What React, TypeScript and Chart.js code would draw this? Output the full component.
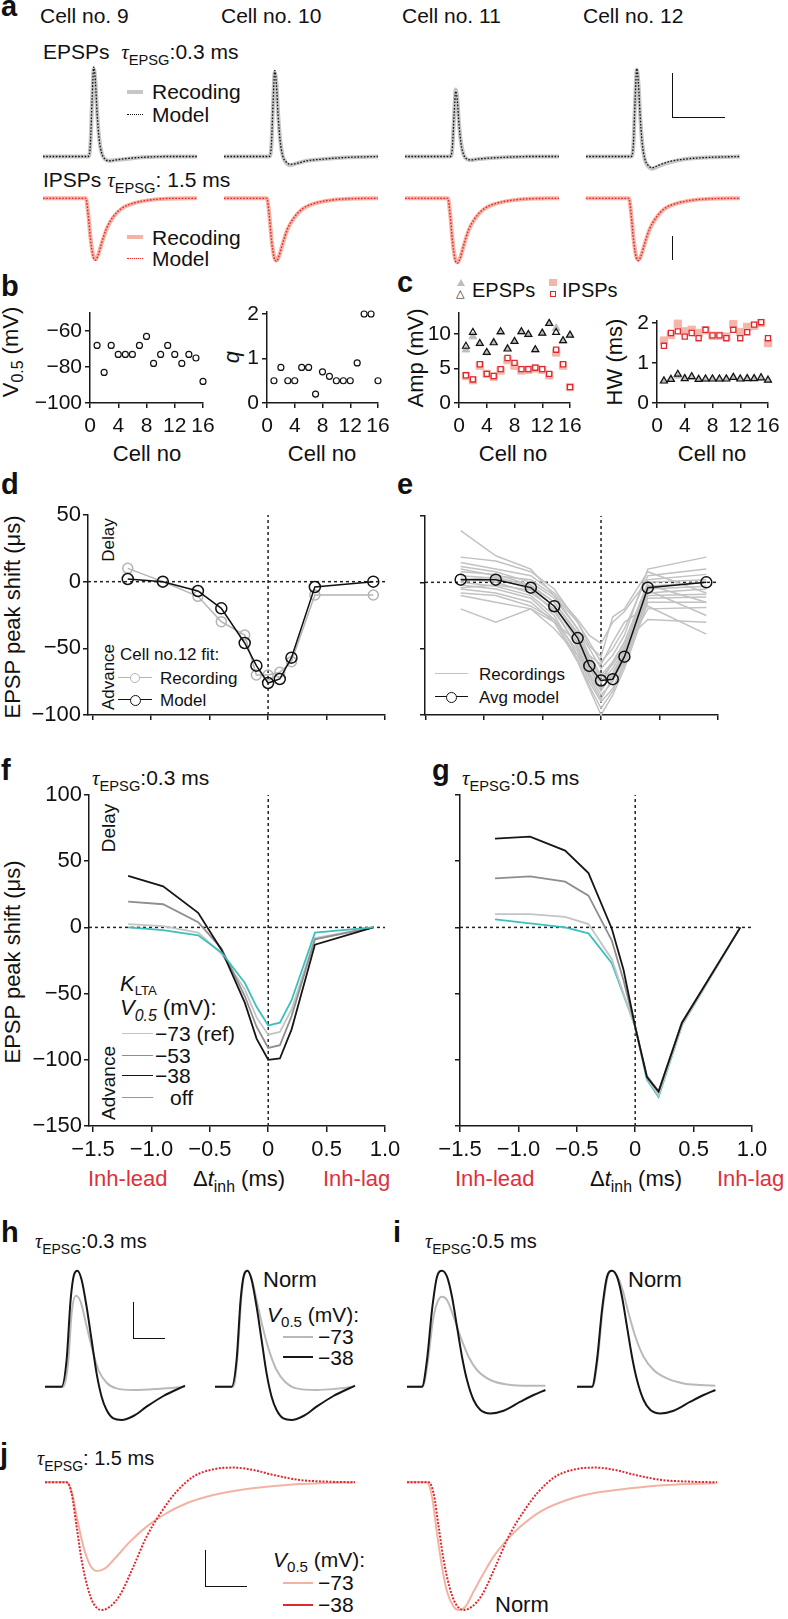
import React, { useEffect, useRef } from "react";
import { Chart, registerables } from "chart.js";
Chart.register(...registerables);

const FONT = '"Liberation Sans", Arial, Helvetica, sans-serif';
const SERIF = '"Liberation Serif", "DejaVu Serif", serif';

// ================= DATA =================
// panel a (time in ms, voltage in mV)
const A_EPSP_T = [0, 5.45, 5.7, 5.9, 6.1, 6.3, 6.5, 6.75, 7.05, 7.45, 7.95, 8.75, 9.95, 11.95, 14.95, 18.5];
const A_EPSP_MODEL_9 = [0, 0, 1.5, 6.5, 10.3, 8.6, 5.0, 2.0, 0.4, -0.3, -0.5, -0.4, -0.25, -0.1, 0, 0];
const A_EPSP_MODEL_10 = [0, 0, 1.4, 6.2, 9.9, 8.3, 4.8, 1.8, 0.1, -0.6, -0.9, -0.8, -0.5, -0.3, -0.1, 0];
const A_EPSP_MODEL_11 = [0, 0, 1.1, 4.8, 7.5, 6.3, 3.6, 1.4, 0.2, -0.3, -0.4, -0.3, -0.2, -0.1, 0, 0];
const A_EPSP_MODEL_12 = [0, 0, 1.5, 6.4, 10.1, 8.4, 4.8, 1.6, -0.2, -1.0, -1.3, -1.0, -0.6, -0.3, -0.1, 0];
const A_EPSP_REC_9 = [0, 0, 1.4, 6.3, 10.1, 8.7, 5.2, 2.1, 0.4, -0.3, -0.5, -0.4, -0.3, -0.1, 0, 0];
const A_EPSP_REC_10 = [0, 0, 1.3, 6.0, 9.7, 8.4, 5.0, 1.9, 0.1, -0.7, -1.0, -0.8, -0.5, -0.3, -0.1, 0];
const A_EPSP_REC_11 = [0, 0, 1.0, 4.7, 7.7, 6.5, 3.7, 1.5, 0.2, -0.3, -0.4, -0.3, -0.2, -0.1, 0, 0];
const A_EPSP_REC_12 = [0, 0, 1.4, 6.3, 10.0, 8.5, 4.9, 1.6, -0.3, -1.1, -1.4, -1.1, -0.7, -0.3, -0.1, 0];

const A_IPSP_T = [0, 5.15, 5.43, 5.71, 6.03, 6.31, 6.63, 7.03, 7.63, 8.43, 9.44, 10.84, 12.85, 15.66, 18.5];
const A_IPSP_MODEL_9 = [0, 0, -1.3, -3.2, -4.6, -4.87, -4.47, -3.55, -2.37, -1.45, -0.79, -0.39, -0.13, 0, 0];
const A_IPSP_MODEL_10 = [0, 0, -1.3, -3.3, -4.7, -4.95, -4.5, -3.6, -2.4, -1.5, -0.82, -0.4, -0.14, -0.02, 0];
const A_IPSP_MODEL_11 = [0, 0, -1.35, -3.4, -4.85, -5.1, -4.7, -3.75, -2.5, -1.55, -0.85, -0.42, -0.15, -0.02, 0];
const A_IPSP_MODEL_12 = [0, 0, -1.3, -3.25, -4.65, -4.9, -4.5, -3.6, -2.42, -1.5, -0.8, -0.4, -0.14, -0.02, 0];
const A_IPSP_REC_9 = [0, 0, -1.2, -3.1, -4.5, -4.8, -4.45, -3.6, -2.45, -1.5, -0.82, -0.4, -0.14, -0.02, 0];
const A_IPSP_REC_10 = [0, 0, -1.2, -3.2, -4.6, -4.9, -4.5, -3.65, -2.45, -1.55, -0.85, -0.42, -0.15, -0.02, 0];
const A_IPSP_REC_11 = [0, 0, -1.25, -3.3, -4.75, -5.05, -4.7, -3.8, -2.55, -1.6, -0.88, -0.44, -0.16, -0.02, 0];
const A_IPSP_REC_12 = [0, 0, -1.2, -3.15, -4.55, -4.85, -4.5, -3.65, -2.47, -1.55, -0.83, -0.42, -0.15, -0.02, 0];

// panels b, c (per cell)
const CELLS = [1, 2, 3, 4, 5, 6, 7, 8, 9, 10, 11, 12, 13, 14, 15, 16];
const B_V05 = [-68, -83, -68, -73, -73, -73, -68, -63, -78, -73, -68, -73, -78, -73, -75, -88];
const B_Q = [0.5, 0.8, 0.5, 0.5, 0.8, 0.8, 0.2, 0.7, 0.6, 0.5, 0.5, 0.5, 0.9, 2.0, 2.0, 0.5];
const C_AMP_EPSP_MODEL = [8.2, 10.2, 8.6, 7.3, 8.7, 10.3, 7.8, 8.9, 10.3, 9.9, 7.7, 10.1, 11.5, 10.2, 9.0, 9.8];
const C_AMP_EPSP_REC = [7.7, 9.6, 8.6, 7.3, 8.8, 10.2, 7.9, 8.9, 10.3, 9.9, 7.7, 10.1, 11.5, 10.8, 9.0, 9.8];
const C_AMP_IPSP_MODEL = [4.0, 3.4, 5.6, 4.2, 3.9, 4.9, 6.5, 5.8, 4.9, 4.9, 5.1, 4.9, 4.2, 7.7, 5.6, 2.3];
const C_AMP_IPSP_REC = [3.9, 3.3, 5.4, 4.2, 3.8, 4.7, 6.2, 5.4, 4.7, 4.8, 5.0, 4.8, 4.0, 7.3, 5.4, 2.3];
const C_HW_IPSP_MODEL = [1.43, 1.75, 1.79, 1.66, 1.75, 1.62, 1.83, 1.69, 1.69, 1.62, 1.83, 1.62, 1.77, 1.96, 2.02, 1.62];
const C_HW_IPSP_REC = [1.56, 1.70, 1.98, 1.79, 1.83, 1.75, 1.82, 1.68, 1.68, 1.66, 1.97, 1.77, 1.90, 1.93, 2.00, 1.50];
const C_HW_EPSP_MODEL = [0.55, 0.59, 0.72, 0.61, 0.66, 0.59, 0.60, 0.60, 0.60, 0.60, 0.64, 0.60, 0.61, 0.61, 0.63, 0.57];
const C_HW_EPSP_REC = [0.56, 0.60, 0.68, 0.62, 0.65, 0.60, 0.60, 0.61, 0.60, 0.61, 0.65, 0.61, 0.62, 0.62, 0.64, 0.58];

const BC_X_TICKS = [0, 4, 8, 12, 16];
const BC_X_LABELS = ["0", "4", "8", "12", "16"];
const B_V_TICKS = [-100, -80, -60];
const B_V_LABELS = ["\u2212100", "\u221280", "\u221260"];
const B_Q_TICKS = [0, 1, 2];
const B_Q_LABELS = ["0", "1", "2"];
const C_AMP_TICKS = [0, 5, 10];
const C_AMP_LABELS = ["0", "5", "10"];
const C_HW_TICKS = [0, 1, 2];
const C_HW_LABELS = ["0", "1", "2"];

// panels d, e (inhibition timing, ms; peak shift, µs)
const DT = [-1.2, -0.9, -0.6, -0.4, -0.2, -0.1, 0, 0.1, 0.2, 0.4, 0.9];
const D_REC = [10, 0, -11, -30, -40, -70, -70, -68, -60, -10, -10];
const D_MODEL = [2, 0, -7, -20, -46, -63, -76, -73, -57, -4, 0];
const E_MODEL = [2, 2, -4, -18, -42, -63, -74, -73, -56, -4, 0];
const E_REC_1 = [39, 20, 10, -10, -35, -50, -65, -55, -40, 10, 19];
const E_REC_2 = [19, 16, 8, -5, -30, -45, -60, -50, -35, 5, 10];
const E_REC_3 = [15, 10, 5, -8, -28, -40, -46, -30, -22, 2, 6];
const E_REC_4 = [12, 8, 0, -12, -35, -55, -70, -60, -45, 0, 2];
const E_REC_5 = [8, 6, -2, -15, -40, -60, -75, -65, -50, -3, 0];
const E_REC_6 = [5, 3, -5, -18, -45, -65, -80, -70, -55, -5, -3];
const E_REC_7 = [3, 0, -8, -20, -50, -70, -85, -75, -58, -8, -5];
const E_REC_8 = [0, -3, -10, -25, -55, -75, -90, -80, -60, -10, -9];
const E_REC_9 = [-2, -5, -12, -28, -58, -78, -95, -82, -62, -12, -11];
const E_REC_10 = [-5, -8, -15, -30, -60, -80, -100, -85, -65, -15, -15];
const E_REC_11 = [-8, -10, -18, -28, -52, -72, -88, -72, -52, -20, -19];
const E_REC_12 = [-10, -15, -20, -35, -55, -65, -76, -60, -45, -28, -30];
const E_REC_13 = [-20, -30, -20, -30, -45, -55, -62, -45, -30, -18, -39];
const E_REC_14 = [10, 5, 2, -10, -30, -48, -56, -26, -20, 8, -8];
const E_REC_15 = [2, 4, -3, -15, -38, -58, -72, -62, -48, -2, -15];
const E_REC_16 = [-4, -2, -6, -22, -48, -68, -82, -68, -52, -6, -25];
const E_RECS = [E_REC_1, E_REC_2, E_REC_3, E_REC_4, E_REC_5, E_REC_6, E_REC_7, E_REC_8, E_REC_9, E_REC_10, E_REC_11, E_REC_12, E_REC_13, E_REC_14, E_REC_15, E_REC_16];

// panels f, g (KLTA V0.5 variants)
const F_REF = [2.5, 1, -4, -20, -47, -68, -81, -79, -62, -8, 0];
const F_M53 = [19.5, 17.5, 4, -16, -52, -75, -91, -89, -67, -9, 0];
const F_M38 = [39, 31, 11, -17, -57, -84, -100, -99, -77, -13, 0];
const F_OFF = [0, -2, -6, -19, -42, -60, -74, -72, -55, -4, 0];
const G_REF = [10, 10, 8, 2.5, -24, -50, -75, -114, -127, -74, 0];
const G_M53 = [37, 38.6, 34.5, 24, -10, -40, -75, -112, -124, -72, 0];
const G_M38 = [67, 68.6, 58, 41, -1, -32, -75, -113, -124, -72, 0];
const G_OFF = [6, 3, 0, -4.5, -27, -51, -75, -115, -128, -74, 0];

const DE_Y_TICKS = [-100, -50, 0, 50];
const DE_Y_LABELS = ["\u2212100", "\u221250", "0", "50"];
const FG_Y_TICKS = [-150, -100, -50, 0, 50, 100];
const FG_Y_LABELS = ["\u2212150", "\u2212100", "\u221250", "0", "50", "100"];
const X_TICKS = [-1.5, -1, -0.5, 0, 0.5, 1];
const X_LABELS = ["\u22121.5", "\u22121.0", "\u22120.5", "0", "0.5", "1.0"];

// panels h, i (ms, mV)
const H_T_BLACK = [0, 0.83, 1.08, 1.28, 1.45, 1.62, 1.83, 2.08, 2.33, 2.58, 2.83, 3.08, 3.42, 3.83, 4.42, 5.08, 5.92, 7.0];
const H_BLACK = [0, 0, 2.67, 8.67, 11.2, 11.6, 10.7, 8.0, 4.67, 1.33, -1.0, -2.33, -3.17, -3.33, -2.93, -2.0, -0.93, 0.1];
const H_T_GRAY = [0, 0.92, 1.17, 1.33, 1.55, 1.78, 2.05, 2.33, 2.67, 3.08, 3.58, 4.42, 5.75, 7.0];
const H_GRAY = [0, 0, 2.67, 7.33, 9.1, 8.5, 6.33, 4.0, 1.67, 0.4, -0.17, -0.33, -0.2, 0];
const H_T_GRAY_NORM = [0, 0.92, 1.12, 1.32, 1.48, 1.62, 1.83, 2.08, 2.42, 2.75, 3.08, 3.5, 4.08, 5.08, 6.08, 6.92];
const H_GRAY_NORM = [0, 0, 3.0, 9.0, 11.27, 11.6, 10.83, 8.67, 5.67, 3.33, 1.67, 0.5, -0.17, -0.33, -0.2, 0];
const I_T_BLACK = [0, 0.75, 1.0, 1.25, 1.5, 1.75, 2.0, 2.25, 2.5, 2.75, 3.0, 3.33, 3.67, 4.17, 4.83, 5.67, 6.33, 6.92];
const I_BLACK = [0, 0, 2.67, 7.67, 11.0, 11.6, 11.0, 9.0, 6.0, 3.0, 0.67, -1.33, -2.33, -2.67, -2.4, -1.5, -0.83, -0.33];
const I_T_GRAY = [0, 0.78, 1.03, 1.3, 1.53, 1.75, 2.0, 2.33, 2.67, 3.08, 3.5, 4.17, 5.0, 6.17, 6.92];
const I_GRAY = [0, 0, 2.33, 6.67, 8.5, 9.0, 8.67, 7.0, 5.0, 3.0, 1.67, 0.67, 0.23, 0.1, 0.1];
const I_T_GRAY_NORM = [0, 0.78, 1.03, 1.28, 1.53, 1.75, 2.0, 2.28, 2.58, 2.92, 3.33, 3.83, 4.5, 5.33, 6.17, 6.92];
const I_GRAY_NORM = [0, 0, 2.67, 7.67, 11.0, 11.6, 11.1, 9.67, 7.33, 5.0, 3.0, 1.67, 0.83, 0.33, 0.17, 0.1];

// panel j (ms, mV)
const J_T_RED = [0, 1.08, 1.33, 1.58, 1.83, 2.12, 2.42, 2.83, 3.25, 3.75, 4.42, 5.08, 5.83, 6.58, 7.42, 8.42, 9.42, 10.42, 11.42, 12.75, 14.08, 15.5];
const J_RED = [0, 0, -1.1, -4.43, -7.77, -10.43, -12.1, -12.77, -12.43, -11.27, -8.43, -5.43, -2.93, -0.93, 0.57, 1.3, 1.47, 1.23, 0.73, 0.23, 0.07, 0];
const J_T_PINK = [0, 1.08, 1.33, 1.62, 1.92, 2.25, 2.58, 3.0, 3.5, 4.25, 5.08, 5.92, 7.08, 8.42, 10.08, 12.08, 13.75, 15.5];
const J_PINK = [0, 0, -0.93, -3.77, -6.43, -8.27, -8.87, -8.6, -7.6, -5.93, -4.43, -3.27, -2.1, -1.27, -0.67, -0.27, -0.1, 0];
const J_T_PINK_NORM = [0, 1.0, 1.25, 1.5, 1.75, 2.0, 2.33, 2.58, 2.92, 3.33, 3.83, 4.33, 4.92, 5.67, 6.67, 8.0, 9.5, 11.17, 13.0, 15.42];
const J_PINK_NORM = [0, 0, -1.43, -5.1, -8.43, -10.93, -12.43, -12.77, -12.43, -10.93, -9.1, -7.43, -5.93, -4.43, -2.93, -1.77, -1.03, -0.6, -0.27, -0.1];

// ================= COLOURS =================
const C_REC_GRAY = "#c6c6c6";
const C_REC_PINK = "#f6b2a2";
const C_RED = "#e2262e";
const C_BLACK = "#161616";
const C_REF = "#c4c4c4";
const C_M53 = "#8e8e8e";
const C_OFF = "#3bbfbf";

// ================= HELPERS =================
const pts = (xs: number[], ys: number[]) => xs.map((x, i) => ({ x, y: ys[i] }));

function lineDs(xs: number[], ys: number[], color: string, width: number, dash: number[] = [], smooth = true, extra: any = {}) {
  return {
    data: pts(xs, ys),
    borderColor: color,
    borderWidth: width,
    borderDash: dash,
    pointRadius: 0,
    fill: false,
    clip: false,
    tension: 0,
    cubicInterpolationMode: smooth ? "monotone" : "default",
    ...extra,
  };
}

function markLine(xs: number[], ys: number[], color: string, r: number) {
  return {
    data: pts(xs, ys),
    borderColor: color,
    borderWidth: 1.5,
    pointRadius: r,
    pointBorderWidth: 1.5,
    pointBorderColor: color,
    pointBackgroundColor: "rgba(0,0,0,0)",
    fill: false,
    clip: false,
    tension: 0,
  };
}

function scatterDs(xs: number[], ys: number[], style: string, r: number, border: string, bg: string, bw = 1.2) {
  return {
    data: pts(xs, ys),
    pointStyle: style,
    pointRadius: r,
    pointBorderWidth: bw,
    pointBorderColor: border,
    pointBackgroundColor: bg,
    clip: false,
  };
}

const zeroH = (xmin: number, xmax: number) => lineDs([xmin, xmax], [0, 0], "#222", 1.5, [3, 3], false);
const zeroV = (ymin: number, ymax: number) => lineDs([0, 0], [ymin, ymax], "#222", 1.5, [3, 3], false);

const baseOpts = {
  animation: false,
  responsive: false,
  devicePixelRatio: 1,
  events: [],
  plugins: { legend: { display: false }, tooltip: { enabled: false } },
};

function traceConfig(datasets: any[], xMin: number, xMax: number, yMin: number, yMax: number) {
  return {
    type: "line",
    data: { datasets },
    options: {
      ...baseOpts,
      layout: { padding: 0 },
      scales: {
        x: { type: "linear", min: xMin, max: xMax, display: false },
        y: { type: "linear", min: yMin, max: yMax, display: false },
      },
    },
  };
}

interface AxisSpec { min: number; max: number; ticks: number[]; labels?: string[]; size?: number; pad?: number; tick?: number }

function axisScale(s: AxisSpec, isX: boolean, w: number) {
  return {
    type: "linear",
    min: s.min,
    max: s.max,
    afterBuildTicks: (sc: any) => { sc.ticks = s.ticks.map((v) => ({ value: v })); },
    afterFit: (sc: any) => { if (isX) sc.height = w; else sc.width = w; },
    grid: { display: true, drawOnChartArea: false, drawTicks: true, tickLength: s.tick ?? 5, color: "#1a1a1a", lineWidth: 1.5 },
    border: { display: true, color: "#1a1a1a", width: 1.5 },
    ticks: {
      display: !!s.labels,
      autoSkip: false,
      maxRotation: 0,
      minRotation: 0,
      padding: s.pad ?? 3,
      color: "#111",
      font: { family: FONT, size: s.size ?? 21 },
      callback: (_v: any, i: number) => (s.labels ? s.labels[i] : ""),
    },
  };
}

function axisConfig(type: string, datasets: any[], xs: AxisSpec, ys: AxisSpec, yAxisW: number, xAxisH: number, padTop: number, padRight: number) {
  return {
    type,
    data: { datasets },
    options: {
      ...baseOpts,
      layout: { padding: { top: padTop, right: padRight, left: 0, bottom: 0 } },
      scales: { x: axisScale(xs, true, xAxisH), y: axisScale(ys, false, yAxisW) },
    },
  };
}

function ChartBox({ left, top, width, height, config }: { left: number; top: number; width: number; height: number; config: any }) {
  const ref = useRef<HTMLCanvasElement>(null);
  useEffect(() => {
    const c = new Chart(ref.current as HTMLCanvasElement, config);
    return () => c.destroy();
  }, []);
  return <canvas ref={ref} width={width} height={height} style={{ position: "absolute", left, top, width, height }} />;
}

// ---- text helpers (y = baseline) ----
function Txt({ x, y, size = 21, children, color = "#111", weight = 400, italic = false, center = false, family = FONT }: any) {
  return (
    <div
      style={{
        position: "absolute",
        left: x,
        top: y - 0.8465 * size,
        fontSize: size,
        lineHeight: 1,
        fontFamily: family,
        color,
        fontWeight: weight,
        fontStyle: italic ? "italic" : "normal",
        whiteSpace: "nowrap",
        transform: center ? "translateX(-50%)" : undefined,
      }}
    >
      {children}
    </div>
  );
}
function Rot({ cx, cy, size = 22, children, italic = false }: any) {
  return (
    <div
      style={{
        position: "absolute",
        left: cx,
        top: cy,
        transform: "translate(-50%,-50%) rotate(-90deg)",
        fontSize: size,
        lineHeight: 1,
        fontFamily: FONT,
        fontStyle: italic ? "italic" : "normal",
        whiteSpace: "nowrap",
        color: "#111",
      }}
    >
      {children}
    </div>
  );
}
const Sub = ({ children, italic = false, shift = "-0.4em", scale = "0.7em" }: any) => (
  <span style={{ fontSize: scale, verticalAlign: shift, fontStyle: italic ? "italic" : "normal" }}>{children}</span>
);
const Tau = () => <span style={{ fontFamily: SERIF, fontStyle: "italic" }}>τ</span>;
const Letter = ({ x, y, c }: any) => <Txt x={x} y={y} size={29} weight={700}>{c}</Txt>;
function HLine({ x1, x2, y, color, w = 1.5, style = "solid" }: any) {
  return <div style={{ position: "absolute", left: x1, top: y - w / 2, width: x2 - x1, height: 0, borderTop: `${w}px ${style} ${color}` }} />;
}
function VLine({ x, y1, y2, color = "#111", w = 1.5 }: any) {
  return <div style={{ position: "absolute", left: x - w / 2, top: y1, width: 0, height: y2 - y1, borderLeft: `${w}px solid ${color}` }} />;
}
function Circ({ cx, cy, r, color }: any) {
  return <div style={{ position: "absolute", left: cx - r, top: cy - r, width: 2 * r, height: 2 * r, boxSizing: "border-box", border: `1.5px solid ${color}`, borderRadius: "50%", background: "#fff" }} />;
}

// ================= LAYOUT =================
const A_STARTS = [43, 224, 405, 586];
const A_W = 162;
const A_PXMS = 8.32;

export default function App() {
  const epspModels = [A_EPSP_MODEL_9, A_EPSP_MODEL_10, A_EPSP_MODEL_11, A_EPSP_MODEL_12];
  const epspRecs = [A_EPSP_REC_9, A_EPSP_REC_10, A_EPSP_REC_11, A_EPSP_REC_12];
  const ipspModels = [A_IPSP_MODEL_9, A_IPSP_MODEL_10, A_IPSP_MODEL_11, A_IPSP_MODEL_12];
  const ipspRecs = [A_IPSP_REC_9, A_IPSP_REC_10, A_IPSP_REC_11, A_IPSP_REC_12];
  const cellNames = ["Cell no. 9", "Cell no. 10", "Cell no. 11", "Cell no. 12"];
  const tMin = -4 / A_PXMS;
  const tMax = (A_W - 4) / A_PXMS;

  const charts: any[] = [];
  A_STARTS.forEach((s, k) => {
    charts.push(
      <ChartBox key={"ae" + k} left={s - 4} top={55} width={A_W} height={120}
        config={traceConfig([
          lineDs(A_EPSP_T, epspModels[k], "#111", 1.3, [1.6, 1.6]),
          lineDs(A_EPSP_T, epspRecs[k], C_REC_GRAY, 4),
        ], tMin, tMax, -2.13, 11.67)} />
    );
    charts.push(
      <ChartBox key={"ai" + k} left={s - 4} top={185} width={A_W} height={87}
        config={traceConfig([
          lineDs(A_IPSP_T, ipspModels[k], C_RED, 1.4, [1.6, 1.6]),
          lineDs(A_IPSP_T, ipspRecs[k], C_REC_PINK, 4),
        ], tMin, tMax, -5.8, 1.05)} />
    );
  });

  const xBC = (size = 21): AxisSpec => ({ min: 0, max: 16, ticks: BC_X_TICKS, labels: BC_X_LABELS, size, pad: 6, tick: 5 });

  // panel b
  charts.push(
    <ChartBox key="b1" left={30} top={295} width={193} height={142}
      config={axisConfig("scatter", [scatterDs(CELLS, B_V05, "circle", 3, "#111", "rgba(0,0,0,0)")], xBC(),
        { min: -100, max: -50, ticks: B_V_TICKS, labels: B_V_LABELS, size: 21, pad: 3 }, 60, 34, 18, 20)} />
  );
  charts.push(
    <ChartBox key="b2" left={237} top={294} width={161} height={143}
      config={axisConfig("scatter", [scatterDs(CELLS, B_Q, "circle", 3, "#111", "rgba(0,0,0,0)")], xBC(),
        { min: 0, max: 2.045, ticks: B_Q_TICKS, labels: B_Q_LABELS, size: 21, pad: 3 }, 30, 34, 18, 20)} />
  );
  // panel c
  charts.push(
    <ChartBox key="c1" left={419} top={295} width={171} height={142}
      config={axisConfig("scatter", [
        scatterDs(CELLS, C_AMP_EPSP_MODEL, "triangle", 4, "#111", "rgba(0,0,0,0)", 1.2),
        scatterDs(CELLS, C_AMP_IPSP_MODEL, "rect", 3.6, C_RED, "#fff", 1.3),
        scatterDs(CELLS, C_AMP_EPSP_REC, "triangle", 4.5, "#bdbdbd", "#bdbdbd", 1),
        scatterDs(CELLS, C_AMP_IPSP_REC, "rect", 5.2, "#f5b5a8", "#f5b5a8", 1),
      ], xBC(), { min: 0, max: 13, ticks: C_AMP_TICKS, labels: C_AMP_LABELS, size: 21, pad: 3 }, 40, 34, 18, 20)} />
  );
  charts.push(
    <ChartBox key="c2" left={627} top={303} width={161} height={134}
      config={axisConfig("scatter", [
        scatterDs(CELLS, C_HW_EPSP_MODEL, "triangle", 4, "#111", "rgba(0,0,0,0)", 1.2),
        scatterDs(CELLS, C_HW_IPSP_MODEL, "rect", 3.6, C_RED, "#fff", 1.3),
        scatterDs(CELLS, C_HW_EPSP_REC, "triangle", 4.5, "#bdbdbd", "#bdbdbd", 1),
        scatterDs(CELLS, C_HW_IPSP_REC, "rect", 5.2, "#f5b5a8", "#f5b5a8", 1),
      ], xBC(), { min: 0, max: 2.05, ticks: C_HW_TICKS, labels: C_HW_LABELS, size: 21, pad: 3 }, 30, 34, 18, 20)} />
  );

  // panel d
  charts.push(
    <ChartBox key="d" left={18} top={497} width={377} height={238}
      config={axisConfig("line", [
        markLine(DT, D_MODEL, "#111", 5.5),
        markLine(DT, D_REC, "#b4b4b4", 5),
        zeroH(-1.54, 1.0),
        zeroV(-100, 50),
      ], { min: -1.54, max: 1.0, ticks: X_TICKS, tick: 5 },
        { min: -100, max: 50, ticks: DE_Y_TICKS, labels: DE_Y_LABELS, size: 22, pad: 2 }, 70, 20, 18, 10)} />
  );
  // panel e
  charts.push(
    <ChartBox key="e" left={413} top={509} width={315} height={226}
      config={axisConfig("line", [
        markLine(DT, E_MODEL, "#111", 5.5),
        ...E_RECS.map((r) => lineDs(DT, r, "#c2c2c2", 1.5, [], false)),
        zeroH(-1.505, 1.0),
        zeroV(-100, 50),
      ], { min: -1.505, max: 1.0, ticks: X_TICKS, tick: 5 },
        { min: -100, max: 50, ticks: DE_Y_TICKS, tick: 5 }, 12, 20, 6, 10)} />
  );
  // panel f
  charts.push(
    <ChartBox key="f" left={19} top={777} width={392} height={389}
      config={axisConfig("line", [
        lineDs(DT, F_OFF, C_OFF, 1.8, [], false),
        lineDs(DT, F_M38, C_BLACK, 1.8, [], false),
        lineDs(DT, F_M53, C_M53, 1.8, [], false),
        lineDs(DT, F_REF, C_REF, 1.8, [], false),
        zeroH(-1.535, 1.0),
        zeroV(-150, 100),
      ], { min: -1.535, max: 1.0, ticks: X_TICKS, labels: X_LABELS, size: 22, pad: 5, tick: 6 },
        { min: -150, max: 100, ticks: FG_Y_TICKS, labels: FG_Y_LABELS, size: 22, pad: 2 }, 70, 40, 18, 26)} />
  );
  // panel g
  charts.push(
    <ChartBox key="g" left={430} top={789} width={352} height={377}
      config={axisConfig("line", [
        lineDs(DT, G_M38, C_BLACK, 1.8, [], false),
        lineDs(DT, G_M53, C_M53, 1.8, [], false),
        lineDs(DT, G_REF, C_REF, 1.8, [], false),
        lineDs(DT, G_OFF, C_OFF, 1.8, [], false),
        zeroH(-1.5, 1.0),
        zeroV(-150, 100),
      ], { min: -1.5, max: 1.0, ticks: X_TICKS, labels: X_LABELS, size: 22, pad: 5, tick: 6 },
        { min: -150, max: 100, ticks: FG_Y_TICKS, tick: 5 }, 30, 40, 6, 30)} />
  );

  // panels h, i
  const hiY: [number, number] = [-4.13, 12.87];
  charts.push(<ChartBox key="h1" left={40} top={1258} width={150} height={170}
    config={traceConfig([lineDs(H_T_BLACK, H_BLACK, C_BLACK, 2), lineDs(H_T_GRAY, H_GRAY, "#b9b9b9", 2)], -0.25, 7.25, hiY[0], hiY[1])} />);
  charts.push(<ChartBox key="h2" left={210} top={1258} width={150} height={170}
    config={traceConfig([lineDs(H_T_BLACK, H_BLACK, C_BLACK, 2), lineDs(H_T_GRAY_NORM, H_GRAY_NORM, "#b9b9b9", 2)], -0.25, 7.25, hiY[0], hiY[1])} />);
  charts.push(<ChartBox key="i1" left={402} top={1258} width={150} height={170}
    config={traceConfig([lineDs(I_T_BLACK, I_BLACK, C_BLACK, 2), lineDs(I_T_GRAY, I_GRAY, "#b9b9b9", 2)], -0.25, 7.25, hiY[0], hiY[1])} />);
  charts.push(<ChartBox key="i2" left={572} top={1258} width={150} height={170}
    config={traceConfig([lineDs(I_T_BLACK, I_BLACK, C_BLACK, 2), lineDs(I_T_GRAY_NORM, I_GRAY_NORM, "#b9b9b9", 2)], -0.25, 7.25, hiY[0], hiY[1])} />);
  // panel j
  charts.push(<ChartBox key="j1" left={40} top={1462} width={320} height={156}
    config={traceConfig([lineDs(J_T_RED, J_RED, C_RED, 2, [2, 1.5]), lineDs(J_T_PINK, J_PINK, "#f3b3a3", 2)], -0.25, 15.75, -13.57, 2.03)} />);
  charts.push(<ChartBox key="j2" left={402} top={1462} width={320} height={156}
    config={traceConfig([lineDs(J_T_RED, J_RED, C_RED, 2, [2, 1.5]), lineDs(J_T_PINK_NORM, J_PINK_NORM, "#f3b3a3", 2)], -0.25, 15.75, -13.57, 2.03)} />);

  const V05 = ({ it = true }: any) => (
    <>
      <span style={{ fontStyle: it ? "italic" : "normal" }}>V</span>
      <Sub shift="-0.35em" scale="0.72em">0.5</Sub>
    </>
  );

  return (
    <div style={{ position: "absolute", left: 0, top: 0, width: 788, height: 1619, background: "#fff", overflow: "hidden", fontFamily: FONT, color: "#111" }}>
      {/* ---------- a ---------- */}
      <Letter x={1} y={17} c="a" />
      {cellNames.map((n, k) => (
        <Txt key={n} x={A_STARTS[k] - 3} y={23} size={21}>{n}</Txt>
      ))}
      <Txt x={43} y={59} size={21}>EPSPs&nbsp; <Tau /><Sub>EPSG</Sub>:0.3 ms</Txt>
      <HLine x1={127} x2={143} y={92} color={C_REC_GRAY} w={4} />
      <Txt x={152} y={99} size={21}>Recoding</Txt>
      <HLine x1={127} x2={143} y={115} color="#111" w={1.5} style="dotted" />
      <Txt x={152} y={122} size={21}>Model</Txt>
      <VLine x={673} y1={73} y2={118} />
      <HLine x1={673} x2={725} y={118} color="#111" />
      <Txt x={43} y={187} size={21}>IPSPs <Tau /><Sub>EPSG</Sub>: 1.5 ms</Txt>
      <HLine x1={127} x2={143} y={237} color={C_REC_PINK} w={4} />
      <Txt x={152} y={245} size={21}>Recoding</Txt>
      <HLine x1={127} x2={143} y={259} color={C_RED} w={1.5} style="dotted" />
      <Txt x={152} y={266} size={21}>Model</Txt>
      <VLine x={673} y1={236} y2={260} />

      {/* ---------- b ---------- */}
      <Letter x={1} y={297} c="b" />
      <Rot cx={13} cy={352} size={22}><V05 it={false} /> (mV)</Rot>
      <Rot cx={232} cy={357} size={22} italic>q</Rot>
      <Txt x={147} y={462} size={22} center>Cell no</Txt>
      <Txt x={322} y={462} size={22} center>Cell no</Txt>

      {/* ---------- c ---------- */}
      <Letter x={397} y={293} c="c" />
      <div style={{ position: "absolute", left: 457, top: 279, width: 0, height: 0, borderLeft: "4px solid transparent", borderRight: "4px solid transparent", borderBottom: "7px solid #bdbdbd" }} />
      <div style={{ position: "absolute", left: 456, top: 288, fontSize: 11, lineHeight: 1, fontFamily: '"DejaVu Sans", sans-serif' }}>△</div>
      <Txt x={472} y={297} size={20}>EPSPs</Txt>
      <div style={{ position: "absolute", left: 549, top: 279, width: 8, height: 7, background: "#f5b5a8" }} />
      <div style={{ position: "absolute", left: 550, top: 291, width: 6, height: 6, boxSizing: "border-box", border: `1.3px solid ${C_RED}`, background: "#fff" }} />
      <Txt x={562} y={297} size={20}>IPSPs</Txt>
      <Rot cx={416} cy={358} size={22}>Amp (mV)</Rot>
      <Rot cx={615} cy={362} size={22}>HW (ms)</Rot>
      <Txt x={513} y={462} size={22} center>Cell no</Txt>
      <Txt x={712} y={462} size={22} center>Cell no</Txt>

      {/* ---------- d ---------- */}
      <Letter x={1} y={495} c="d" />
      <Letter x={397} y={495} c="e" />
      <Rot cx={13} cy={617} size={22}>EPSP peak shift (μs)</Rot>
      <Rot cx={107.5} cy={540} size={17}>Delay</Rot>
      <Rot cx={107.5} cy={677} size={17}>Advance</Rot>
      <Txt x={120} y={660} size={17}>Cell no.12 fit:</Txt>
      <HLine x1={118} x2={152} y={678} color="#b4b4b4" />
      <Circ cx={135} cy={678} r={5} color="#b4b4b4" />
      <Txt x={160} y={684} size={17}>Recording</Txt>
      <HLine x1={118} x2={152} y={700} color="#111" />
      <Circ cx={135} cy={700} r={5.5} color="#111" />
      <Txt x={160} y={706} size={17}>Model</Txt>
      <HLine x1={435} x2={468} y={674} color="#c2c2c2" />
      <Txt x={479} y={680} size={17}>Recordings</Txt>
      <HLine x1={435} x2={468} y={697} color="#111" />
      <Circ cx={451} cy={697} r={5.5} color="#111" />
      <Txt x={479} y={703} size={17}>Avg model</Txt>

      {/* ---------- f, g ---------- */}
      <Letter x={1} y={781} c="f" />
      <Txt x={92} y={785} size={21}><Tau /><Sub>EPSG</Sub>:0.3 ms</Txt>
      <Letter x={432} y={781} c="g" />
      <Txt x={462} y={785} size={21}><Tau /><Sub>EPSG</Sub>:0.5 ms</Txt>
      <Rot cx={13} cy={962} size={22}>EPSP peak shift (μs)</Rot>
      <Rot cx={107.5} cy={828} size={19}>Delay</Rot>
      <Rot cx={107.5} cy={1083} size={19}>Advance</Rot>
      <Txt x={120} y={992} size={22}><span style={{ fontStyle: "italic" }}>K</span><Sub shift="-0.3em" scale="0.6em">LTA</Sub></Txt>
      <Txt x={120} y={1016} size={22}><span style={{ fontStyle: "italic" }}>V<Sub shift="-0.35em" scale="0.72em" italic>0.5</Sub></span> (mV):</Txt>
      <HLine x1={122} x2={153} y={1034} color={C_REF} w={1.8} />
      <Txt x={155} y={1041} size={21}>−73 (ref)</Txt>
      <HLine x1={122} x2={153} y={1056} color={C_M53} w={1.8} />
      <Txt x={155} y={1063} size={21}>−53</Txt>
      <HLine x1={122} x2={153} y={1076} color={C_BLACK} w={1.8} />
      <Txt x={155} y={1083} size={21}>−38</Txt>
      <HLine x1={122} x2={153} y={1098} color={C_OFF} w={1.8} />
      <Txt x={170} y={1105} size={21}>off</Txt>
      <Txt x={88} y={1187} size={22} color="#e0303a">Inh-lead</Txt>
      <Txt x={193} y={1187} size={22}>Δ<span style={{ fontStyle: "italic" }}>t</span><Sub shift="-0.35em" scale="0.72em">inh</Sub> (ms)</Txt>
      <Txt x={323} y={1187} size={22} color="#e0303a">Inh-lag</Txt>
      <Txt x={455} y={1187} size={22} color="#e0303a">Inh-lead</Txt>
      <Txt x={590} y={1187} size={22}>Δ<span style={{ fontStyle: "italic" }}>t</span><Sub shift="-0.35em" scale="0.72em">inh</Sub> (ms)</Txt>
      <Txt x={717} y={1187} size={22} color="#e0303a">Inh-lag</Txt>

      {/* ---------- h, i ---------- */}
      <Letter x={1} y={1243} c="h" />
      <Txt x={35} y={1248} size={20}><Tau /><Sub>EPSG</Sub>:0.3 ms</Txt>
      <VLine x={134} y1={1302} y2={1339} />
      <HLine x1={134} x2={165} y={1339} color="#111" />
      <Txt x={263} y={1288} size={22}>Norm</Txt>
      <Txt x={267} y={1322} size={21}><V05 /> (mV):</Txt>
      <HLine x1={283} x2={313} y={1337} color="#b9b9b9" w={2} />
      <Txt x={318} y={1344} size={21}>−73</Txt>
      <HLine x1={283} x2={313} y={1357} color={C_BLACK} w={2} />
      <Txt x={318} y={1365} size={21}>−38</Txt>
      <Letter x={393} y={1243} c="i" />
      <Txt x={425} y={1248} size={20}><Tau /><Sub>EPSG</Sub>:0.5 ms</Txt>
      <Txt x={628} y={1288} size={22}>Norm</Txt>

      {/* ---------- j ---------- */}
      <Letter x={0} y={1465} c="j" />
      <Txt x={37} y={1465} size={20}><Tau /><Sub>EPSG</Sub>: 1.5 ms</Txt>
      <VLine x={206} y1={1550} y2={1587} />
      <HLine x1={206} x2={247} y={1587} color="#111" />
      <Txt x={273} y={1567} size={21}><V05 /> (mV):</Txt>
      <HLine x1={283} x2={313} y={1583} color="#f3b3a3" w={2} />
      <Txt x={318} y={1590} size={21}>−73</Txt>
      <HLine x1={283} x2={313} y={1605} color={C_RED} w={2} />
      <Txt x={318} y={1612} size={21}>−38</Txt>
      <Txt x={495} y={1613} size={22}>Norm</Txt>

      {charts}
    </div>
  );
}
